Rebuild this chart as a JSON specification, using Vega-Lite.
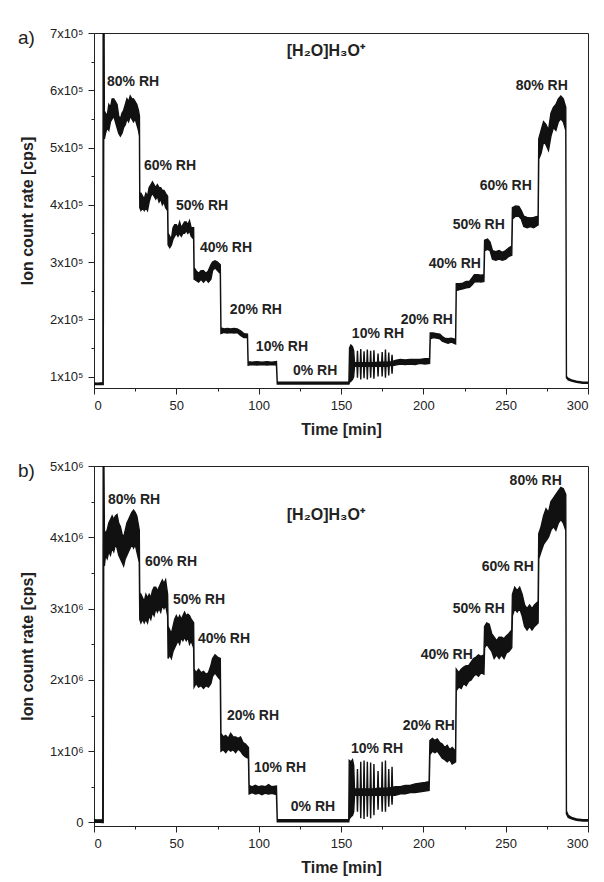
{
"$schema": "https://vega.github.io/schema/vega-lite/v6.json",
"background": "white",
"padding": {"left": 17, "top": 26, "right": 5, "bottom": 5},
"bounds": "flush",
"spacing": 78,
"datasets": {
"seriesA": [
{"t":0,"lo":86000,"hi":89000},{"t":2,"lo":86500,"hi":88500},{"t":4,"lo":86000,"hi":89000},{"t":5.4,"lo":86000,"hi":89000},
{"t":5.6,"lo":86000,"hi":900000},{"t":5.9,"lo":520000,"hi":900000},{"t":6.3,"lo":515000,"hi":545000},
{"t":7,"lo":525000,"hi":560000},{"t":8,"lo":535000,"hi":555000},{"t":9,"lo":530000,"hi":575000},{"t":10,"lo":545000,"hi":570000},
{"t":11,"lo":550000,"hi":585000},{"t":12,"lo":555000,"hi":585000},{"t":13,"lo":545000,"hi":580000},{"t":14,"lo":535000,"hi":575000},
{"t":15,"lo":525000,"hi":555000},{"t":16,"lo":520000,"hi":550000},{"t":17,"lo":525000,"hi":560000},{"t":18,"lo":535000,"hi":565000},
{"t":19,"lo":540000,"hi":575000},{"t":20,"lo":550000,"hi":585000},{"t":21,"lo":545000,"hi":580000},{"t":22,"lo":555000,"hi":590000},
{"t":23,"lo":550000,"hi":585000},{"t":24,"lo":545000,"hi":585000},{"t":25,"lo":550000,"hi":580000},{"t":26,"lo":540000,"hi":575000},
{"t":27,"lo":530000,"hi":565000},{"t":27.6,"lo":520000,"hi":555000},
{"t":27.8,"lo":395000,"hi":420000},{"t":28.5,"lo":390000,"hi":420000},{"t":29.5,"lo":395000,"hi":415000},{"t":30.5,"lo":390000,"hi":410000},
{"t":31.5,"lo":395000,"hi":420000},{"t":32.5,"lo":390000,"hi":415000},{"t":33.5,"lo":405000,"hi":430000},{"t":34.5,"lo":415000,"hi":435000},
{"t":35.5,"lo":420000,"hi":440000},{"t":36.5,"lo":415000,"hi":435000},{"t":37.5,"lo":410000,"hi":430000},{"t":38.5,"lo":415000,"hi":435000},
{"t":39.5,"lo":405000,"hi":430000},{"t":40.5,"lo":410000,"hi":430000},{"t":41.5,"lo":400000,"hi":425000},{"t":42.5,"lo":405000,"hi":425000},
{"t":43.5,"lo":395000,"hi":420000},{"t":44.7,"lo":390000,"hi":415000},
{"t":45,"lo":330000,"hi":350000},{"t":46,"lo":325000,"hi":345000},{"t":47,"lo":330000,"hi":340000},{"t":48,"lo":340000,"hi":360000},
{"t":49,"lo":345000,"hi":365000},{"t":50,"lo":350000,"hi":365000},{"t":51,"lo":345000,"hi":360000},{"t":52,"lo":350000,"hi":370000},
{"t":53,"lo":345000,"hi":360000},{"t":54,"lo":350000,"hi":365000},{"t":55,"lo":350000,"hi":370000},{"t":56,"lo":355000,"hi":370000},
{"t":57,"lo":350000,"hi":365000},{"t":58,"lo":355000,"hi":372000},{"t":59,"lo":345000,"hi":360000},{"t":60.5,"lo":340000,"hi":360000},
{"t":60.8,"lo":270000,"hi":290000},{"t":62,"lo":268000,"hi":285000},{"t":63.5,"lo":265000,"hi":280000},{"t":65,"lo":270000,"hi":285000},
{"t":66.5,"lo":265000,"hi":285000},{"t":68,"lo":270000,"hi":280000},{"t":69.5,"lo":265000,"hi":285000},{"t":71,"lo":270000,"hi":295000},
{"t":72,"lo":285000,"hi":300000},{"t":73.5,"lo":290000,"hi":302000},{"t":75,"lo":285000,"hi":300000},{"t":76.7,"lo":280000,"hi":295000},
{"t":77.1,"lo":175000,"hi":185000},{"t":79,"lo":177000,"hi":183000},{"t":81,"lo":176000,"hi":184000},{"t":83,"lo":177000,"hi":183000},
{"t":85,"lo":176000,"hi":184000},{"t":87,"lo":177000,"hi":183000},{"t":89,"lo":172000,"hi":180000},{"t":91,"lo":168000,"hi":175000},
{"t":93.2,"lo":168000,"hi":174000},
{"t":93.6,"lo":120000,"hi":126000},{"t":96,"lo":121000,"hi":125000},{"t":99,"lo":120000,"hi":126000},{"t":102,"lo":121000,"hi":125000},
{"t":105,"lo":120000,"hi":126000},{"t":108,"lo":121000,"hi":125000},{"t":110.8,"lo":120000,"hi":126000},
{"t":111.3,"lo":87000,"hi":90000},{"t":120,"lo":87000,"hi":90000},{"t":130,"lo":87000,"hi":90000},{"t":140,"lo":87000,"hi":90000},
{"t":150,"lo":87000,"hi":90000},{"t":154.8,"lo":87000,"hi":90000},
{"t":155.2,"lo":90000,"hi":150000},{"t":156,"lo":92000,"hi":155000},{"t":157,"lo":95000,"hi":152000},{"t":157.7,"lo":100000,"hi":145000},
{"t":158.2,"lo":118000,"hi":124000},
{"t":159.7,"lo":118000,"hi":124000},{"t":160,"lo":98000,"hi":145000},{"t":160.3,"lo":118000,"hi":124000},
{"t":161.7,"lo":118000,"hi":124000},{"t":162,"lo":95000,"hi":148000},{"t":162.3,"lo":118000,"hi":124000},
{"t":163.7,"lo":118000,"hi":124000},{"t":164,"lo":97000,"hi":144000},{"t":164.3,"lo":118000,"hi":124000},
{"t":165.7,"lo":118000,"hi":124000},{"t":166,"lo":95000,"hi":147000},{"t":166.3,"lo":118000,"hi":124000},
{"t":167.7,"lo":118000,"hi":124000},{"t":168,"lo":98000,"hi":145000},{"t":168.3,"lo":118000,"hi":124000},
{"t":169.7,"lo":118000,"hi":124000},{"t":170,"lo":96000,"hi":146000},{"t":170.3,"lo":118000,"hi":124000},
{"t":172.2,"lo":118000,"hi":125000},{"t":172.5,"lo":100000,"hi":140000},{"t":172.8,"lo":118000,"hi":125000},
{"t":174.7,"lo":118000,"hi":125000},{"t":175,"lo":100000,"hi":143000},{"t":175.3,"lo":118000,"hi":125000},
{"t":176.7,"lo":118000,"hi":125000},{"t":177,"lo":98000,"hi":147000},{"t":177.3,"lo":118000,"hi":125000},
{"t":178.7,"lo":119000,"hi":125000},{"t":179,"lo":102000,"hi":142000},{"t":179.3,"lo":119000,"hi":125000},
{"t":180.7,"lo":119000,"hi":126000},{"t":181,"lo":105000,"hi":138000},{"t":181.3,"lo":119000,"hi":126000},
{"t":183,"lo":120000,"hi":128000},{"t":186,"lo":122000,"hi":130000},{"t":189,"lo":121000,"hi":129000},{"t":192,"lo":122000,"hi":130000},
{"t":195,"lo":121000,"hi":130000},{"t":198,"lo":123000,"hi":130000},{"t":201,"lo":122000,"hi":131000},{"t":203.8,"lo":123000,"hi":131000},
{"t":204.2,"lo":166000,"hi":176000},{"t":206,"lo":168000,"hi":176000},{"t":208,"lo":167000,"hi":175000},{"t":210,"lo":166000,"hi":174000},
{"t":211.5,"lo":162000,"hi":170000},{"t":213,"lo":160000,"hi":167000},{"t":215,"lo":158000,"hi":166000},{"t":217,"lo":160000,"hi":167000},
{"t":219.6,"lo":157000,"hi":165000},
{"t":220,"lo":250000,"hi":262000},{"t":222,"lo":252000,"hi":262000},{"t":224,"lo":253000,"hi":263000},{"t":226,"lo":255000,"hi":266000},
{"t":228,"lo":256000,"hi":266000},{"t":229.5,"lo":260000,"hi":272000},{"t":231,"lo":265000,"hi":278000},{"t":233,"lo":266000,"hi":278000},
{"t":235,"lo":265000,"hi":277000},{"t":236.8,"lo":266000,"hi":278000},
{"t":237.2,"lo":320000,"hi":338000},{"t":239,"lo":322000,"hi":340000},{"t":240.5,"lo":320000,"hi":335000},{"t":242,"lo":305000,"hi":320000},
{"t":244,"lo":303000,"hi":318000},{"t":246,"lo":305000,"hi":320000},{"t":248,"lo":303000,"hi":317000},{"t":250,"lo":305000,"hi":320000},
{"t":252,"lo":310000,"hi":325000},{"t":253.7,"lo":312000,"hi":328000},
{"t":254.1,"lo":375000,"hi":395000},{"t":256,"lo":380000,"hi":398000},{"t":258,"lo":380000,"hi":397000},{"t":259.5,"lo":375000,"hi":390000},
{"t":261,"lo":362000,"hi":380000},{"t":263,"lo":360000,"hi":378000},{"t":265,"lo":362000,"hi":377000},{"t":267,"lo":360000,"hi":378000},
{"t":269.7,"lo":365000,"hi":380000},
{"t":270.1,"lo":480000,"hi":515000},{"t":271.5,"lo":490000,"hi":530000},{"t":273,"lo":510000,"hi":545000},{"t":274.5,"lo":505000,"hi":540000},
{"t":276,"lo":495000,"hi":530000},{"t":277.5,"lo":520000,"hi":560000},{"t":279,"lo":535000,"hi":570000},{"t":280.5,"lo":530000,"hi":575000},
{"t":282,"lo":545000,"hi":585000},{"t":283.5,"lo":550000,"hi":590000},{"t":285,"lo":545000,"hi":585000},{"t":286.5,"lo":530000,"hi":570000},
{"t":286.9,"lo":98000,"hi":100000},{"t":288,"lo":94000,"hi":97000},{"t":290,"lo":92000,"hi":94000},{"t":293,"lo":90000,"hi":92000},
{"t":297,"lo":88000,"hi":90000},{"t":300,"lo":88000,"hi":90000}
],
"seriesB": [
{"t":0,"lo":0,"hi":40000},{"t":2,"lo":5000,"hi":35000},{"t":5.3,"lo":0,"hi":40000},
{"t":5.6,"lo":0,"hi":5500000},{"t":5.9,"lo":3700000,"hi":5500000},{"t":6.3,"lo":3600000,"hi":4100000},
{"t":7,"lo":3750000,"hi":4050000},{"t":8,"lo":3700000,"hi":4100000},{"t":9,"lo":3800000,"hi":4200000},{"t":10,"lo":3750000,"hi":4250000},
{"t":11,"lo":3850000,"hi":4300000},{"t":12,"lo":3800000,"hi":4250000},{"t":13,"lo":3900000,"hi":4300000},{"t":14,"lo":3850000,"hi":4320000},
{"t":15,"lo":3750000,"hi":4200000},{"t":16,"lo":3700000,"hi":4150000},{"t":17,"lo":3650000,"hi":4050000},{"t":18,"lo":3600000,"hi":4000000},
{"t":19,"lo":3700000,"hi":4100000},{"t":20,"lo":3750000,"hi":4200000},{"t":21,"lo":3800000,"hi":4250000},{"t":22,"lo":3850000,"hi":4300000},
{"t":23,"lo":3900000,"hi":4350000},{"t":24,"lo":3850000,"hi":4380000},{"t":25,"lo":3900000,"hi":4350000},{"t":26,"lo":3800000,"hi":4300000},
{"t":27.5,"lo":3650000,"hi":4100000},
{"t":27.8,"lo":2850000,"hi":3150000},{"t":28.5,"lo":2800000,"hi":3200000},{"t":29.5,"lo":2850000,"hi":3150000},{"t":30.5,"lo":2800000,"hi":3100000},
{"t":31.5,"lo":2850000,"hi":3200000},{"t":32.5,"lo":2800000,"hi":3150000},{"t":33.5,"lo":2900000,"hi":3200000},{"t":34.5,"lo":2850000,"hi":3150000},
{"t":35.5,"lo":2950000,"hi":3250000},{"t":36.5,"lo":2900000,"hi":3300000},{"t":37.5,"lo":3000000,"hi":3300000},{"t":38.5,"lo":2950000,"hi":3250000},
{"t":39.5,"lo":3000000,"hi":3300000},{"t":40.5,"lo":2950000,"hi":3350000},{"t":41.5,"lo":3050000,"hi":3400000},{"t":42.5,"lo":3000000,"hi":3350000},
{"t":43.5,"lo":3050000,"hi":3400000},{"t":44.7,"lo":2900000,"hi":3200000},
{"t":45,"lo":2300000,"hi":2750000},{"t":46,"lo":2350000,"hi":2700000},{"t":47,"lo":2300000,"hi":2650000},{"t":48,"lo":2400000,"hi":2750000},
{"t":49,"lo":2450000,"hi":2850000},{"t":50,"lo":2500000,"hi":2900000},{"t":51,"lo":2550000,"hi":2850000},{"t":52,"lo":2500000,"hi":2900000},
{"t":53,"lo":2600000,"hi":2850000},{"t":54,"lo":2550000,"hi":2900000},{"t":55,"lo":2600000,"hi":2950000},{"t":56,"lo":2550000,"hi":2900000},
{"t":57,"lo":2600000,"hi":2920000},{"t":58,"lo":2500000,"hi":2900000},{"t":59,"lo":2550000,"hi":2850000},{"t":60.5,"lo":2450000,"hi":2800000},
{"t":60.8,"lo":1900000,"hi":2150000},{"t":62,"lo":1950000,"hi":2100000},{"t":63.5,"lo":1900000,"hi":2150000},{"t":65,"lo":1920000,"hi":2100000},
{"t":66.5,"lo":1880000,"hi":2120000},{"t":68,"lo":1920000,"hi":2080000},{"t":69.5,"lo":1900000,"hi":2100000},{"t":71,"lo":1950000,"hi":2200000},
{"t":72,"lo":2050000,"hi":2300000},{"t":73.5,"lo":2100000,"hi":2350000},{"t":75,"lo":2050000,"hi":2320000},{"t":76.7,"lo":2000000,"hi":2300000},
{"t":77.1,"lo":1000000,"hi":1250000},{"t":78.5,"lo":1020000,"hi":1200000},{"t":80,"lo":980000,"hi":1220000},{"t":81.5,"lo":1030000,"hi":1180000},
{"t":83,"lo":1000000,"hi":1250000},{"t":84.5,"lo":1020000,"hi":1200000},{"t":86,"lo":980000,"hi":1200000},{"t":87.5,"lo":1030000,"hi":1180000},
{"t":89,"lo":1000000,"hi":1200000},{"t":90.5,"lo":950000,"hi":1120000},{"t":92,"lo":920000,"hi":1100000},{"t":93.8,"lo":900000,"hi":1050000},
{"t":94.2,"lo":400000,"hi":520000},{"t":96,"lo":420000,"hi":500000},{"t":98,"lo":400000,"hi":520000},{"t":100,"lo":410000,"hi":500000},
{"t":102,"lo":390000,"hi":510000},{"t":104,"lo":410000,"hi":500000},{"t":106,"lo":400000,"hi":530000},{"t":108,"lo":410000,"hi":500000},
{"t":110.8,"lo":390000,"hi":510000},
{"t":111.3,"lo":10000,"hi":40000},{"t":130,"lo":10000,"hi":40000},{"t":154.7,"lo":10000,"hi":40000},
{"t":155,"lo":50000,"hi":870000},{"t":156,"lo":80000,"hi":850000},{"t":157,"lo":100000,"hi":880000},{"t":157.7,"lo":150000,"hi":800000},
{"t":158.2,"lo":380000,"hi":470000},
{"t":159.7,"lo":380000,"hi":470000},{"t":160,"lo":150000,"hi":750000},{"t":160.3,"lo":380000,"hi":470000},
{"t":161.7,"lo":380000,"hi":470000},{"t":162,"lo":60000,"hi":850000},{"t":162.3,"lo":380000,"hi":470000},
{"t":163.7,"lo":380000,"hi":470000},{"t":164,"lo":50000,"hi":870000},{"t":164.3,"lo":380000,"hi":470000},
{"t":165.7,"lo":380000,"hi":470000},{"t":166,"lo":80000,"hi":850000},{"t":166.3,"lo":380000,"hi":470000},
{"t":167.7,"lo":380000,"hi":470000},{"t":168,"lo":60000,"hi":840000},{"t":168.3,"lo":380000,"hi":470000},
{"t":169.7,"lo":380000,"hi":470000},{"t":170,"lo":100000,"hi":820000},{"t":170.3,"lo":380000,"hi":470000},
{"t":172.2,"lo":380000,"hi":480000},{"t":172.5,"lo":180000,"hi":720000},{"t":172.8,"lo":380000,"hi":480000},
{"t":174.7,"lo":380000,"hi":480000},{"t":175,"lo":150000,"hi":850000},{"t":175.3,"lo":380000,"hi":480000},
{"t":176.7,"lo":380000,"hi":480000},{"t":177,"lo":150000,"hi":870000},{"t":177.3,"lo":380000,"hi":480000},
{"t":178.7,"lo":385000,"hi":485000},{"t":179,"lo":220000,"hi":750000},{"t":179.3,"lo":385000,"hi":485000},
{"t":180.7,"lo":385000,"hi":490000},{"t":181,"lo":250000,"hi":780000},{"t":181.3,"lo":385000,"hi":490000},
{"t":183,"lo":380000,"hi":500000},{"t":186,"lo":400000,"hi":500000},{"t":189,"lo":400000,"hi":520000},{"t":192,"lo":420000,"hi":520000},
{"t":195,"lo":420000,"hi":540000},{"t":198,"lo":430000,"hi":550000},{"t":201,"lo":440000,"hi":560000},{"t":203.5,"lo":450000,"hi":570000},
{"t":204,"lo":950000,"hi":1150000},{"t":205.5,"lo":1000000,"hi":1180000},{"t":207,"lo":980000,"hi":1150000},{"t":208.5,"lo":1000000,"hi":1170000},
{"t":210,"lo":950000,"hi":1120000},{"t":211.5,"lo":900000,"hi":1100000},{"t":213,"lo":880000,"hi":1050000},{"t":214.5,"lo":850000,"hi":1080000},
{"t":216,"lo":880000,"hi":1020000},{"t":217.5,"lo":820000,"hi":1050000},{"t":219.6,"lo":850000,"hi":1000000},
{"t":220,"lo":1850000,"hi":2150000},{"t":221.5,"lo":1900000,"hi":2100000},{"t":223,"lo":1880000,"hi":2150000},{"t":224.5,"lo":1950000,"hi":2180000},
{"t":226,"lo":1920000,"hi":2200000},{"t":227.5,"lo":1980000,"hi":2200000},{"t":229,"lo":2000000,"hi":2250000},{"t":230.5,"lo":2050000,"hi":2300000},
{"t":232,"lo":2080000,"hi":2320000},{"t":233.5,"lo":2050000,"hi":2350000},{"t":235,"lo":2100000,"hi":2330000},{"t":236.8,"lo":2080000,"hi":2350000},
{"t":237.2,"lo":2450000,"hi":2750000},{"t":238.5,"lo":2500000,"hi":2800000},{"t":240,"lo":2450000,"hi":2780000},{"t":241.5,"lo":2400000,"hi":2650000},
{"t":243,"lo":2300000,"hi":2600000},{"t":244.5,"lo":2350000,"hi":2550000},{"t":246,"lo":2300000,"hi":2600000},{"t":247.5,"lo":2350000,"hi":2600000},
{"t":249,"lo":2300000,"hi":2580000},{"t":250.5,"lo":2380000,"hi":2620000},{"t":252,"lo":2400000,"hi":2650000},{"t":253.7,"lo":2450000,"hi":2700000},
{"t":254.1,"lo":2900000,"hi":3200000},{"t":255.5,"lo":3000000,"hi":3300000},{"t":257,"lo":2950000,"hi":3250000},{"t":258.5,"lo":3000000,"hi":3300000},
{"t":260,"lo":2900000,"hi":3200000},{"t":261.5,"lo":2750000,"hi":3050000},{"t":263,"lo":2700000,"hi":3000000},{"t":264.5,"lo":2750000,"hi":3050000},
{"t":266,"lo":2700000,"hi":3000000},{"t":267.5,"lo":2750000,"hi":3050000},{"t":269.7,"lo":2800000,"hi":3100000},
{"t":270.1,"lo":3700000,"hi":4050000},{"t":271.5,"lo":3800000,"hi":4150000},{"t":273,"lo":3900000,"hi":4300000},{"t":274.5,"lo":3950000,"hi":4400000},
{"t":276,"lo":4000000,"hi":4350000},{"t":277.5,"lo":4100000,"hi":4500000},{"t":279,"lo":4150000,"hi":4550000},{"t":280.5,"lo":4100000,"hi":4600000},
{"t":282,"lo":4200000,"hi":4650000},{"t":283.5,"lo":4250000,"hi":4700000},{"t":285,"lo":4200000,"hi":4680000},{"t":286.5,"lo":4100000,"hi":4600000},
{"t":286.9,"lo":120000,"hi":160000},{"t":288,"lo":70000,"hi":100000},{"t":290,"lo":50000,"hi":70000},{"t":293,"lo":30000,"hi":50000},
{"t":297,"lo":20000,"hi":40000},{"t":300,"lo":20000,"hi":40000}
],
"labelsA": [
{"t":7.9,"v":615000,"label":"80% RH"},{"t":30.3,"v":467000,"label":"60% RH"},{"t":49.8,"v":397000,"label":"50% RH"},
{"t":64.3,"v":324000,"label":"40% RH"},{"t":82.5,"v":216000,"label":"20% RH"},{"t":98.3,"v":151000,"label":"10% RH"},
{"t":120.8,"v":109000,"label":"0% RH"},{"t":156.6,"v":174000,"label":"10% RH"},{"t":186.3,"v":198000,"label":"20% RH"},
{"t":203.3,"v":296000,"label":"40% RH"},{"t":217.8,"v":364000,"label":"50% RH"},{"t":234.2,"v":432000,"label":"60% RH"},
{"t":256.1,"v":607000,"label":"80% RH"}
],
"labelsB": [
{"t":8.5,"v":4530000,"label":"80% RH"},{"t":30.9,"v":3650000,"label":"60% RH"},{"t":47.9,"v":3120000,"label":"50% RH"},
{"t":63.1,"v":2580000,"label":"40% RH"},{"t":80.7,"v":1490000,"label":"20% RH"},{"t":97.1,"v":760000,"label":"10% RH"},
{"t":119.5,"v":210000,"label":"0% RH"},{"t":156,"v":1030000,"label":"10% RH"},{"t":187.5,"v":1350000,"label":"20% RH"},
{"t":198.4,"v":2350000,"label":"40% RH"},{"t":217.8,"v":2990000,"label":"50% RH"},{"t":235.4,"v":3580000,"label":"60% RH"},
{"t":252.4,"v":4790000,"label":"80% RH"}
],
"ionA": [{"t":140.8,"v":668000,"label":"[H\u2082O]H\u2083O\u207A"}],
"ionB": [{"t":140.8,"v":4310000,"label":"[H\u2082O]H\u2083O\u207A"}]
},
"vconcat": [
{
"width": 494, "height": 355,
"title": {"text": "a)", "anchor": "start", "frame": "group", "dx": -76, "dy": 36, "offset": 0, "fontSize": 19, "fontWeight": "normal", "color": "#222", "font": "Liberation Sans", "baseline": "alphabetic"},
"resolve": {"axis": {"x": "independent", "y": "independent"}},
"layer": [
{"data": {"name": "seriesA"},
"mark": {"type": "area", "color": "#111", "stroke": "#111", "strokeWidth": 1.4, "clip": true},
"encoding": {
"x": {"field": "t", "type": "quantitative", "scale": {"domain": [0, 300], "nice": false},
"axis": {"orient": "bottom", "title": "Time [min]", "values": [0,50,100,150,200,250,300], "titlePadding": 9}},
"y": {"field": "hi", "type": "quantitative", "scale": {"domain": [80000, 700000], "nice": false, "zero": false},
"axis": {"orient": "left", "title": "Ion count rate [cps]", "values": [100000,200000,300000,400000,500000,600000,700000],
"labelExpr": "(datum.value / 100000) + 'x10\u2075'", "titlePadding": 14}},
"y2": {"field": "lo"}
}},
{"data": {"name": "labelsA"},
"mark": {"type": "text", "align": "left", "baseline": "middle", "fontWeight": "bold", "fontSize": 14, "color": "#222"},
"encoding": {
"x": {"field": "t", "type": "quantitative", "axis": {"orient": "bottom", "values": [25,75,125,175,225,275], "labels": false, "tickSize": 3, "domain": false, "title": null}},
"y": {"field": "v", "type": "quantitative", "axis": {"orient": "left", "values": [150000,250000,350000,450000,550000,650000], "labels": false, "tickSize": 3, "domain": false, "title": null}},
"text": {"field": "label"}}},
{"data": {"name": "ionA"},
"mark": {"type": "text", "align": "center", "baseline": "middle", "fontWeight": "bold", "fontSize": 16, "color": "#222"},
"encoding": {"x": {"field": "t", "type": "quantitative", "axis": null}, "y": {"field": "v", "type": "quantitative", "axis": null}, "text": {"field": "label"}}}
]
},
{
"width": 494, "height": 360,
"title": {"text": "b)", "anchor": "start", "frame": "group", "dx": -76, "dy": 36, "offset": 0, "fontSize": 19, "fontWeight": "normal", "color": "#222", "font": "Liberation Sans", "baseline": "alphabetic"},
"resolve": {"axis": {"x": "independent", "y": "independent"}},
"layer": [
{"data": {"name": "seriesB"},
"mark": {"type": "area", "color": "#111", "stroke": "#111", "strokeWidth": 1.4, "clip": true},
"encoding": {
"x": {"field": "t", "type": "quantitative", "scale": {"domain": [0, 300], "nice": false},
"axis": {"orient": "bottom", "title": "Time [min]", "values": [0,50,100,150,200,250,300], "titlePadding": 9}},
"y": {"field": "hi", "type": "quantitative", "scale": {"domain": [-50000, 5000000], "nice": false, "zero": false},
"axis": {"orient": "left", "title": "Ion count rate [cps]", "values": [0,1000000,2000000,3000000,4000000,5000000],
"labelExpr": "datum.value === 0 ? '0' : (datum.value / 1000000) + 'x10\u2076'", "titlePadding": 14}},
"y2": {"field": "lo"}
}},
{"data": {"name": "labelsB"},
"mark": {"type": "text", "align": "left", "baseline": "middle", "fontWeight": "bold", "fontSize": 14, "color": "#222"},
"encoding": {
"x": {"field": "t", "type": "quantitative", "axis": {"orient": "bottom", "values": [25,75,125,175,225,275], "labels": false, "tickSize": 3, "domain": false, "title": null}},
"y": {"field": "v", "type": "quantitative", "axis": {"orient": "left", "values": [500000,1500000,2500000,3500000,4500000], "labels": false, "tickSize": 3, "domain": false, "title": null}},
"text": {"field": "label"}}},
{"data": {"name": "ionB"},
"mark": {"type": "text", "align": "center", "baseline": "middle", "fontWeight": "bold", "fontSize": 16, "color": "#222"},
"encoding": {"x": {"field": "t", "type": "quantitative", "axis": null}, "y": {"field": "v", "type": "quantitative", "axis": null}, "text": {"field": "label"}}}
]
}
],
"config": {
"font": "Liberation Sans",
"view": {"stroke": "#222", "strokeWidth": 1},
"axis": {"grid": false, "domainColor": "#222", "tickColor": "#222", "labelColor": "#222", "labelFont": "Liberation Sans", "labelFontSize": 13,
"titleFont": "Liberation Sans", "titleFontSize": 16, "titleFontWeight": "bold", "titleColor": "#222", "tickSize": 6, "labelPadding": 5},
"text": {"font": "Liberation Sans"}
}
}
